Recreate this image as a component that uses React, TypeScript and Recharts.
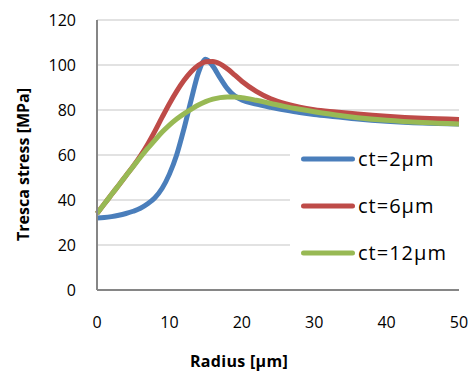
import { LineChart, Line, XAxis, YAxis, CartesianGrid, Legend } from 'recharts';

// radius [µm]
const radius = [0, 1, 2, 3, 4, 5, 6, 7, 8, 9, 10, 11, 12, 13, 14, 15, 16, 17, 18, 19, 20, 22, 24, 26, 28, 30, 33, 36, 40, 45, 50];

// Tresca stress [MPa]
const ct2 = [32, 32.2, 32.6, 33.2, 34, 35, 36.3, 38.3, 41, 45.2, 51.5, 60, 71.5, 84.4, 96.5, 102.6, 99.5, 94.3, 89.5, 86.3, 84.5, 82.6, 81.2, 80, 78.9, 78, 77, 76, 75, 74.2, 73.8];
const ct6 = [34, 38.2, 42.4, 46.6, 50.8, 55, 59.6, 64.8, 70.6, 76.8, 82.8, 88.3, 93.1, 97, 99.9, 101.4, 101.6, 100.5, 98.3, 95.6, 92.8, 88.3, 85, 82.8, 81.2, 80.1, 79.1, 78.2, 77.2, 76.3, 75.8];
const ct12 = [34, 38.2, 42.4, 46.6, 50.8, 54.9, 59, 62.9, 66.6, 70.2, 73.3, 76, 78.3, 80.3, 82.2, 83.7, 84.8, 85.5, 85.8, 85.8, 85.5, 84.3, 82.9, 81.5, 80.3, 79.2, 77.8, 76.6, 75.4, 74.4, 73.8];

const xTicks = [0, 10, 20, 30, 40, 50];
const yTicks = [0, 20, 40, 60, 80, 100, 120];

const series = [
  { key: 'ct2', name: 'ct=2µm', color: '#4a7ebb' },
  { key: 'ct6', name: 'ct=6µm', color: '#be4b48' },
  { key: 'ct12', name: 'ct=12µm', color: '#98b954' },
];

const data = radius.map((r, i) => ({ r, ct2: ct2[i], ct6: ct6[i], ct12: ct12[i] }));

const font = '"Open Sans", sans-serif';

const renderLegend = () => (
  <div style={{ background: '#fff', padding: '4px 0 0 10px', height: 145, boxSizing: 'border-box' }}>
    {series.map(s => (
      <div key={s.key} style={{ display: 'flex', alignItems: 'center', height: 47 }}>
        <svg width={56} height={10}>
          <line x1={3.5} y1={5} x2={52.5} y2={5} stroke={s.color} strokeWidth={5} strokeLinecap="round" />
        </svg>
        <span style={{ fontFamily: font, fontSize: 20, letterSpacing: 1, color: '#000', marginLeft: 2 }}>{s.name}</span>
      </div>
    ))}
  </div>
);

export default function App() {
  return (
    <div style={{ position: 'absolute', left: 0, top: 0, background: '#fff' }}>
      <LineChart width={470} height={374} data={data} margin={{ top: 20, right: 11, left: 0, bottom: 0 }}>
        <CartesianGrid vertical={false} stroke="#d9d9d9" strokeWidth={1.5} />
        <XAxis
          dataKey="r"
          type="number"
          domain={[0, 50]}
          ticks={xTicks}
          height={84}
          tickSize={0}
          tickMargin={27}
          axisLine={{ stroke: '#868686', strokeWidth: 2 }}
          tick={{ fontSize: 16, fill: '#000', fontFamily: font }}
          label={{
            content: () => (
              <text
                x={239}
                y={361}
                textAnchor="middle"
                dominantBaseline="central"
                style={{ fontFamily: font, fontSize: 16, fontWeight: 700, letterSpacing: 0.3, fill: '#000' }}
              >
                Radius [µm]
              </text>
            ),
          }}
        />
        <YAxis
          domain={[0, 120]}
          ticks={yTicks}
          width={97}
          tickSize={0}
          tickMargin={21}
          axisLine={{ stroke: '#868686', strokeWidth: 2 }}
          tick={{ fontSize: 16, fill: '#000', fontFamily: font }}
          label={{
            content: () => (
              <text
                x={22.5}
                y={164.5}
                transform="rotate(-90, 22.5, 164.5)"
                textAnchor="middle"
                dominantBaseline="central"
                style={{ fontFamily: font, fontSize: 16, fontWeight: 700, fill: '#000' }}
              >
                Tresca stress [MPa]
              </text>
            ),
          }}
        />
        <Legend
          content={renderLegend}
          layout="vertical"
          align="center"
          verticalAlign="middle"
          wrapperStyle={{ left: 290, top: 131, width: 178 }}
        />
        {series.map(s => (
          <Line
            key={s.key}
            type="monotone"
            dataKey={s.key}
            name={s.name}
            stroke={s.color}
            strokeWidth={5}
            dot={false}
            activeDot={false}
            isAnimationActive={false}
          />
        ))}
      </LineChart>
    </div>
  );
}
